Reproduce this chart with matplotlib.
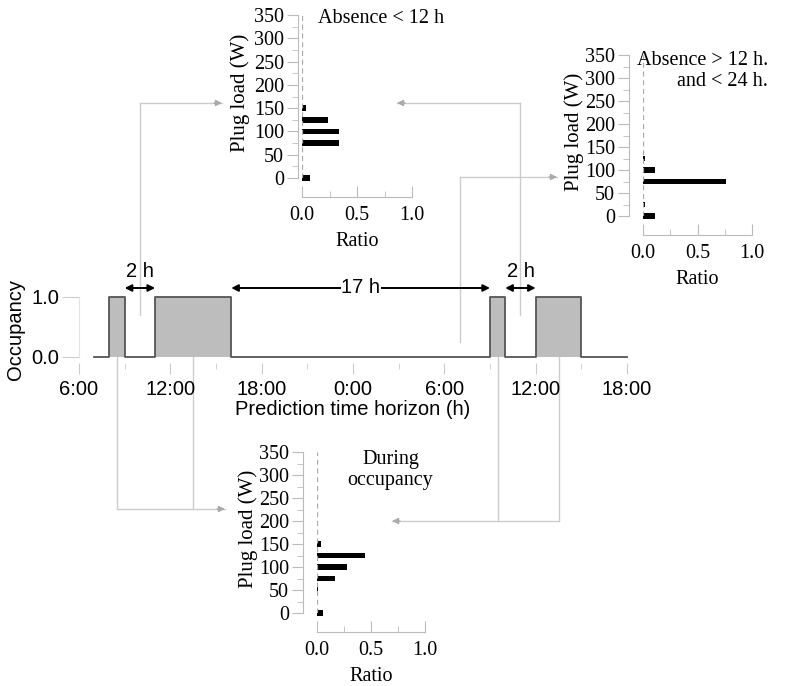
import numpy as np
import matplotlib
matplotlib.use("Agg")
import matplotlib.pyplot as plt

# occupancy profile, hours counted from 6:00 of day 1 (step, post)
occ_hours = [1, 2, 3, 5, 10, 27, 28, 30, 33, 36]
occ_state = [0, 1, 0, 1, 0, 1, 0, 1, 0, 0]
hour_ticks = [0, 6, 12, 18, 24, 30, 36]
hour_labels = ['6:00', '12:00', '18:00', '0:00', '6:00', '12:00', '18:00']

# plug load histograms (ratio per 25 W bin)
load_bins = [0, 25, 50, 75, 100, 125, 150]
ratio_short = [0.07, 0.0, 0.0, 0.335, 0.335, 0.24, 0.04]
ratio_long = [0.108, 0.015, 0.0, 0.757, 0.108, 0.015, 0.0]
ratio_occ = [0.06, 0.0, 0.006, 0.17, 0.28, 0.44, 0.037]

W, H = 785, 686
fig = plt.figure(figsize=(W / 100, H / 100), dpi=100)
sans = 'Liberation Sans'
serif = 'Liberation Serif'


def px_box(left, top, right, bottom):
    return [left / W, 1 - bottom / H, (right - left) / W, (bottom - top) / H]


# ---- main occupancy chart
ax = fig.add_axes(px_box(79, 297, 627, 363))
ax.patch.set_visible(False)
ax.set_xlim(0, 36)
ax.set_ylim(-0.1, 1.0)
ax.fill_between(occ_hours, occ_state, step='post', color='#bdbdbd', lw=0)
ax.step(occ_hours, occ_state, where='post', color='#555555', lw=1.3, clip_on=False)
for s in ['top', 'right', 'bottom']:
    ax.spines[s].set_visible(False)
ax.spines['left'].set_color('#e2e2e2')
ax.spines['left'].set_bounds(0, 1)
ax.set_yticks([0, 1])
ax.set_yticklabels(['0.0', '1.0'], family=sans, fontsize=14.5)
ax.set_xticks(hour_ticks)
ax.set_xticklabels(hour_labels, family=sans, fontsize=14.5)
ax.set_xticks(np.arange(3, 36, 6), minor=True)
ax.tick_params(axis='y', length=12, color='#cccccc', pad=2)
ax.tick_params(axis='x', which='major', length=8, color='#cccccc', pad=4)
ax.tick_params(axis='x', which='minor', length=4, color='#cccccc')
ax.set_ylabel('Occupancy', family=sans, fontsize=14.5, labelpad=5)
ax.set_xlabel('Prediction time horizon (h)', family=sans, fontsize=14.5, labelpad=1)

# interval arrows
arr = dict(arrowstyle='<|-|>', color='black', lw=1.4, mutation_scale=10,
           shrinkA=0, shrinkB=0)
for a, b in [(3, 5), (28, 30)]:
    ax.annotate('', xy=(a, 1.15), xytext=(b, 1.15), arrowprops=arr, annotation_clip=False)
    ax.text((a + b) / 2, 1.42, '2 h', ha='center', va='center',
            family=sans, fontsize=14.5, clip_on=False)
ax.annotate('', xy=(10, 1.15), xytext=(27, 1.15), arrowprops=arr, annotation_clip=False)
ax.text(18.5, 1.15, '17 h', ha='center', va='center', family=sans, fontsize=14.5,
        bbox=dict(fc='white', ec='none', pad=0.5), clip_on=False)


# ---- histogram insets
def inset(box, ratios, note, note_xy, note_ha, yoff):
    a = fig.add_axes(px_box(*box))
    a.patch.set_visible(False)
    a.barh(load_bins, ratios, height=12, color='black', clip_on=False)
    a.plot([0, 0], [0, 350], color='#aaaaaa', lw=0.9, ls=(0, (4, 3)))
    a.set_xlim(0, 1)
    a.set_ylim(0, 350)
    a.spines['top'].set_visible(False)
    a.spines['right'].set_visible(False)
    a.spines['left'].set_position(('outward', yoff))
    a.spines['bottom'].set_position(('outward', 14))
    a.spines['left'].set_color('#bbbbbb')
    a.spines['bottom'].set_color('#bbbbbb')
    a.set_yticks(np.arange(0, 351, 50))
    a.set_yticks(np.arange(25, 350, 50), minor=True)
    a.set_xticks([0, 0.5, 1.0])
    a.set_xticklabels(['0.0', '0.5', '1.0'])
    a.set_xticks([0.25, 0.75], minor=True)
    a.tick_params(axis='y', which='major', length=8, color='#bbbbbb', pad=2, labelsize=14.5)
    a.tick_params(axis='y', which='minor', length=4, color='#bbbbbb')
    a.tick_params(axis='x', which='major', direction='in', length=8, color='#bbbbbb',
                  pad=6, labelsize=14.5)
    a.tick_params(axis='x', which='minor', direction='in', length=4, color='#bbbbbb')
    for lab in a.get_xticklabels() + a.get_yticklabels():
        lab.set_family(serif)
    a.set_ylabel('Plug load (W)', family=serif, fontsize=15)
    width = box[2] - box[0]
    a.yaxis.set_label_coords(-(yoff + 59) / width, 0.52)
    a.yaxis.label.set_va('center')
    a.set_xlabel('Ratio', family=serif, fontsize=14.5, labelpad=5)
    a.text(note_xy[0], note_xy[1], note, ha=note_ha, va='center', family=serif,
           fontsize=14.5, transform=a.transAxes, linespacing=1.15)
    return a


inset((302, 15, 412, 178), ratio_short, 'Absence < 12 h', (0.145, 0.98), 'left', 3)
inset((643, 55, 752, 216), ratio_long, 'Absence > 12 h.\nand < 24 h.', (1.15, 0.9), 'right', 10)
inset((317, 452, 425, 613), ratio_occ, 'During\noccupancy', (0.68, 0.89), 'center', 10)

# ---- connectors from the timeline to the insets
ov = fig.add_axes([0, 0, 1, 1], zorder=-1)
ov.set_xlim(0, W)
ov.set_ylim(H, 0)
ov.axis('off')
head = dict(arrowstyle='-|>', color='#aaaaaa', lw=1, mutation_scale=9,
            shrinkA=0, shrinkB=0)


def to_px(h, o):
    x, y = ax.transData.transform((h, o))
    return x, H - y


def connector(hours, occ, y_turn, x_tip):
    xs = []
    for h in hours:
        x0, y0 = to_px(h, occ)
        ov.plot([x0, x0], [y0, y_turn], color='#cccccc', lw=1)
        xs.append(x0)
    far = xs[0] if x_tip > xs[0] else xs[-1]
    ov.plot([far, x_tip], [y_turn, y_turn], color='#cccccc', lw=1)
    ov.annotate('', xy=(x_tip, y_turn), xytext=(x_tip + (8 if x_tip < far else -8), y_turn),
                arrowprops=head)


connector([4], 0.7, 103, 222)
connector([29], 0.7, 103, 397)
connector([25], 0.25, 177, 557)
connector([2.5, 7.5], 0.35, 509, 225)
connector([27.5, 31.5], 0.35, 521, 392)

fig.savefig('out.png', dpi=100)
